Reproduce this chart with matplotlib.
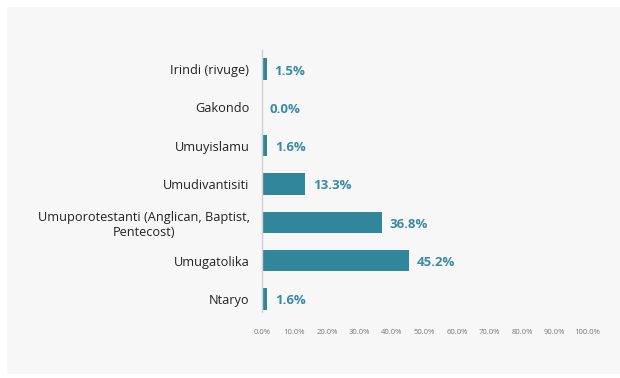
import matplotlib.pyplot as plt
from matplotlib.patches import Rectangle
from matplotlib.ticker import FuncFormatter

plt.rcParams["font.family"] = ["Open Sans", "DejaVu Sans"]

categories = [
    "Irindi (rivuge)",
    "Gakondo",
    "Umuyislamu",
    "Umudivantisiti",
    "Umuporotestanti (Anglican, Baptist,\nPentecost)",
    "Umugatolika",
    "Ntaryo",
]
values = [1.5, 0.0, 1.6, 13.3, 36.8, 45.2, 1.6]
xticks = [0, 10, 20, 30, 40, 50, 60, 70, 80, 90, 100]

bar_color = "#31869b"
label_color = "#3a8aa3"

fig = plt.figure(figsize=(6.2, 3.78), dpi=100, facecolor="white")
# light gray card behind the chart
fig.patches.append(Rectangle((7 / 620, 4 / 378), 1 - 7 / 620, 367 / 378,
                             transform=fig.transFigure, facecolor="#f7f7f7",
                             edgecolor="none", zorder=-10))

ax = fig.add_axes([262 / 620, 1 - 312 / 378, 325 / 620, 262 / 378])
ax.set_facecolor("none")

y = list(range(len(categories)))
ax.barh(y, values, height=0.56, color=bar_color)
for yi, v in zip(y, values):
    ax.text(v + 2.4, yi + 0.05, f"{v:.1f}%", va="center", ha="left",
            fontsize=9.5, fontweight="bold", color=label_color)

ax.set_xlim(0, 100)
ax.set_ylim(6.34, -0.5)
ax.set_xticks(xticks)
ax.xaxis.set_major_formatter(FuncFormatter(lambda v, p: f"{v:.1f}%"))
ax.set_yticks(y)
ax.set_yticklabels(categories)
for lab in ax.get_yticklabels():
    lab.set_multialignment("center")

ax.tick_params(axis="x", length=0, labelsize=5.5, labelcolor="#777777", pad=12)
ax.tick_params(axis="y", length=0, labelsize=9.2, labelcolor="#222222", pad=9)

for side in ["top", "right", "bottom"]:
    ax.spines[side].set_visible(False)
ax.spines["left"].set_color("#d0d0d0")
ax.spines["left"].set_linewidth(1)

fig.savefig("out.png", dpi=100, facecolor=fig.get_facecolor())
